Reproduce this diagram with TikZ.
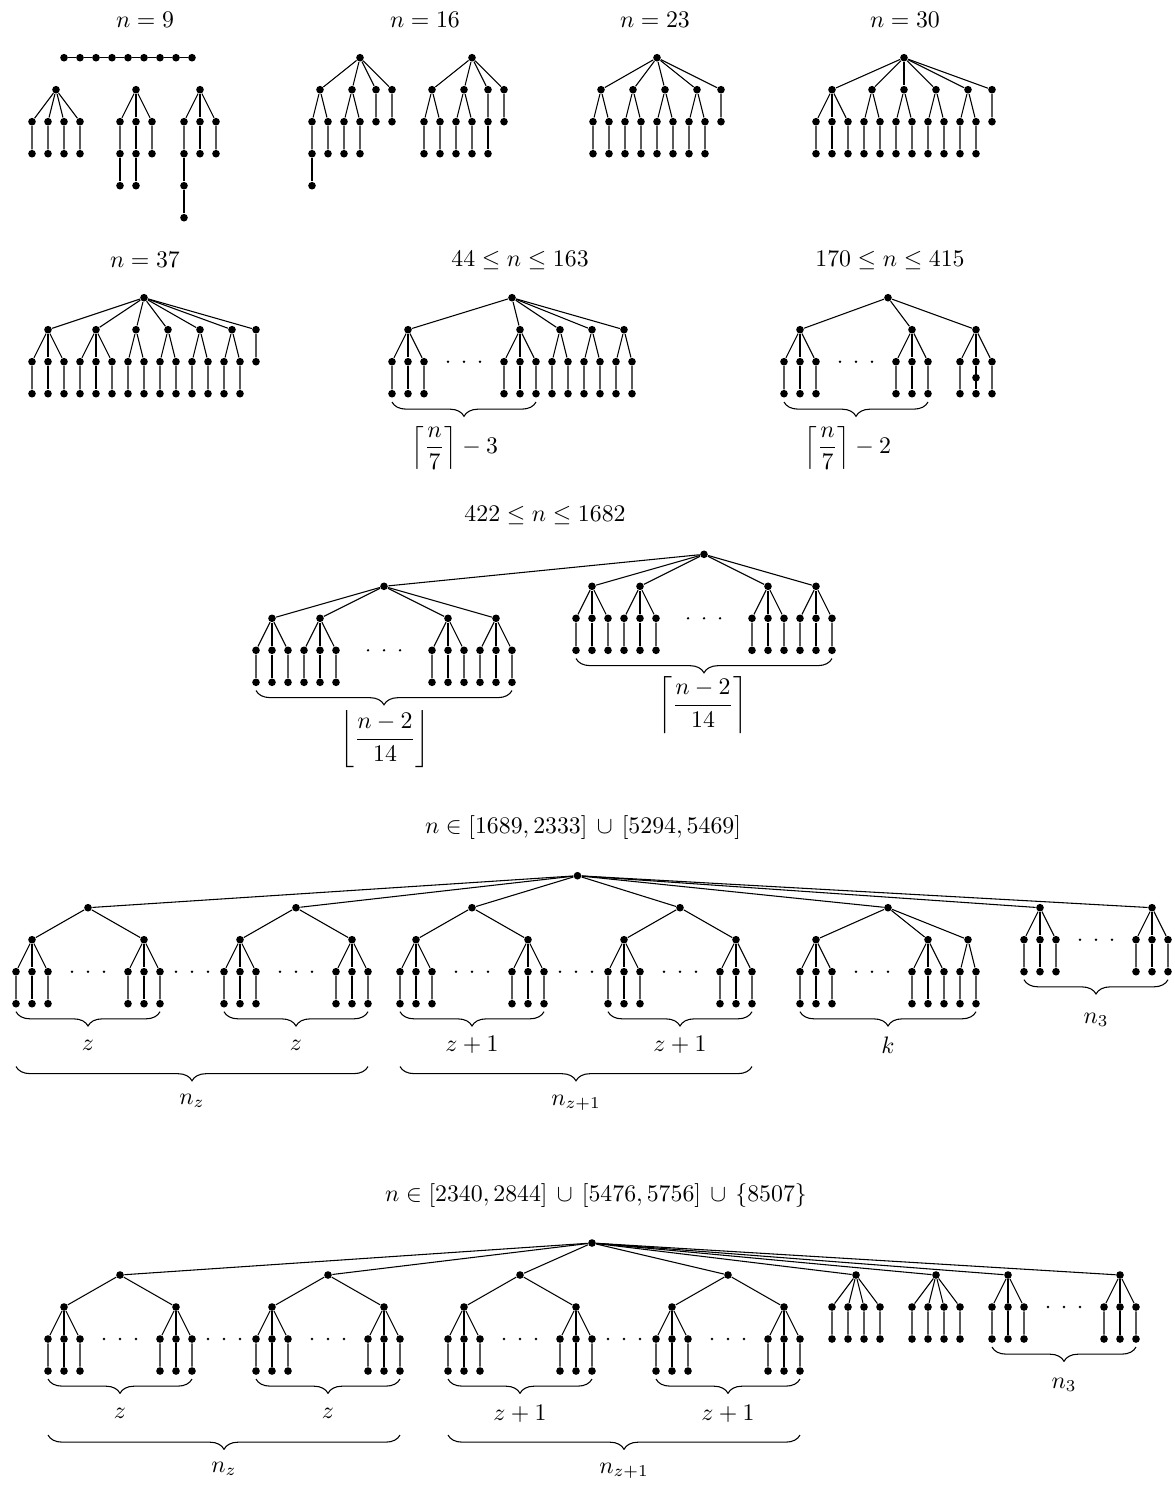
\documentclass[tikz,border=0pt]{standalone}
\usetikzlibrary{decorations.pathreplacing}
\tikzset{
 dot/.style={circle,fill=black,inner sep=0pt,minimum size=3.2pt},
 sdot/.style={circle,fill=black,inner sep=0pt,minimum size=1.1pt},
 bracedown/.style={decorate,decoration={brace,mirror,amplitude=6pt}},
 lbl/.style={inner sep=0pt},
 every path/.style={line width=0.45pt},
}
\newcommand{\legs}[5]{\foreach \xx [count=\k] in {#3} {\node[dot] (#1-c\k) at (\xx,#4) {}; \node[dot] (#1-l\k) at (\xx,#5) {}; \draw (#2) -- (#1-c\k) -- (#1-l\k);}}
\newcommand{\sst}[6]{\node[dot] (#1) at (#2,#3) {}; \legs{#1}{#1}{#4}{#5}{#6}}
\newcommand{\zsub}[6]{%
 \node[dot] (#1) at (#2,#3) {};
 \sst{#1-a}{#2-56}{#4}{#2-72,#2-56,#2-40}{#5}{#6}
 \sst{#1-b}{#2+56}{#4}{#2+40,#2+56,#2+72}{#5}{#6}
 \draw (#1) -- (#1-a); \draw (#1) -- (#1-b);
 \foreach \d [count=\k] in {-16,0,16} \node[sdot] (#1-d\k) at (#2+\d,#5) {};
}
\begin{document}
\begin{tikzpicture}[x=0.42pt,y=-0.42pt]
\useasboundingbox (0,0) rectangle (1174,1490);

% ---------- titles
\node[lbl] (h1) at (145,20) {$n = 9$};
\node[lbl] (h2) at (425,20) {$n = 16$};
\node[lbl] (h3) at (655,20) {$n = 23$};
\node[lbl] (h4) at (905,20) {$n = 30$};
\node[lbl] (h5) at (145,260) {$n = 37$};
\node[lbl] (h6) at (520,260) {$44 \le n \le 163$};
\node[lbl] (h7) at (890,260) {$170 \le n \le 415$};
\node[lbl] (h8) at (545,515) {$422 \le n \le 1682$};
\node[lbl] (h9) at (583,828) {$n \in [1689, 2333] \,\cup\, [5294, 5469]$};
\node[lbl] (h10) at (596,1196) {$n \in [2340, 2844] \,\cup\, [5476, 5756] \,\cup\, \{8507\}$};

% ---------- n = 9
\foreach \i in {0,...,8} \node[dot] (p\i) at ({64+16*\i},57.7) {};
\foreach \i [count=\j] in {0,...,7} \draw (p\i) -- (p\j);
\sst{ta}{56}{89.7}{32,48,64,80}{121.7}{153.7}
\sst{tb}{136}{89.7}{120,136,152}{121.7}{153.7}
\node[dot] (tbx1) at (120,185.7) {}; \draw (tb-l1) -- (tbx1);
\node[dot] (tbx2) at (136,185.7) {}; \draw (tb-l2) -- (tbx2);
\sst{tc}{200}{89.7}{184,200,216}{121.7}{153.7}
\node[dot] (tcx1) at (184,185.7) {}; \node[dot] (tcx2) at (184,217.7) {};
\draw (tc-l1) -- (tcx1) -- (tcx2);

% ---------- n = 16
\node[dot] (ua) at (360,57.7) {};
\sst{uab}{320}{89.7}{312,328}{121.7}{153.7}
\sst{uac}{352}{89.7}{344,360}{121.7}{153.7}
\legs{uad}{ua}{376,392}{89.7}{121.7}
\draw (ua) -- (uab); \draw (ua) -- (uac);
\node[dot] (uax) at (312,185.7) {}; \draw (uab-l1) -- (uax);
\node[dot] (ub) at (472,57.7) {};
\sst{ubb}{432}{89.7}{424,440}{121.7}{153.7}
\sst{ubc}{464}{89.7}{456,472}{121.7}{153.7}
\legs{ubd}{ub}{488,504}{89.7}{121.7}
\draw (ub) -- (ubb); \draw (ub) -- (ubc);
\node[dot] (ubx) at (488,153.7) {}; \draw (ubd-l1) -- (ubx);

% ---------- n = 23
\node[dot] (va) at (657,57.7) {};
\foreach \cx [count=\m] in {601,633,665,697} {\sst{va\m}{\cx}{89.7}{\cx-8,\cx+8}{121.7}{153.7} \draw (va) -- (va\m);}
\legs{vaf}{va}{721}{89.7}{121.7}

% ---------- n = 30
\node[dot] (wa) at (904,57.7) {};
\sst{wa1}{832}{89.7}{816,832,848}{121.7}{153.7} \draw (wa) -- (wa1);
\foreach \cx [count=\m from 2] in {872,904,936,968} {\sst{wa\m}{\cx}{89.7}{\cx-8,\cx+8}{121.7}{153.7} \draw (wa) -- (wa\m);}
\legs{waf}{wa}{992}{89.7}{121.7}

% ---------- n = 37
\node[dot] (na) at (144,297.7) {};
\sst{na1}{48}{329.7}{32,48,64}{361.7}{393.7}
\sst{na2}{96}{329.7}{80,96,112}{361.7}{393.7}
\draw (na) -- (na1); \draw (na) -- (na2);
\foreach \cx [count=\m from 3] in {136,168,200,232} {\sst{na\m}{\cx}{329.7}{\cx-8,\cx+8}{361.7}{393.7} \draw (na) -- (na\m);}
\legs{naf}{na}{256}{329.7}{361.7}

% ---------- 44 <= n <= 163
\node[dot] (ma) at (512,297.7) {};
\sst{ma1}{408}{329.7}{392,408,424}{361.7}{393.7}
\sst{ma2}{520}{329.7}{504,520,536}{361.7}{393.7}
\draw (ma) -- (ma1); \draw (ma) -- (ma2);
\foreach \cx [count=\m from 3] in {560,592,624} {\sst{ma\m}{\cx}{329.7}{\cx-8,\cx+8}{361.7}{393.7} \draw (ma) -- (ma\m);}
\foreach \x [count=\k] in {448,464,480} \node[sdot] (mad\k) at (\x,361.7) {};
\draw[bracedown] (392,402) -- (536,402);
\node[lbl] (mal) at (455,448) {$\displaystyle\left\lceil\frac{n}{7}\right\rceil - 3$};

% ---------- 170 <= n <= 415
\node[dot] (ka) at (888,297.7) {};
\sst{ka1}{800}{329.7}{784,800,816}{361.7}{393.7}
\sst{ka2}{912}{329.7}{896,912,928}{361.7}{393.7}
\sst{ka3}{976}{329.7}{960,976,992}{361.7}{393.7}
\node[dot] (kam) at (976,377.7) {};
\draw (ka) -- (ka1); \draw (ka) -- (ka2); \draw (ka) -- (ka3);
\foreach \x [count=\k] in {840,856,872} \node[sdot] (kad\k) at (\x,361.7) {};
\draw[bracedown] (784,402) -- (928,402);
\node[lbl] (kal) at (848,448) {$\displaystyle\left\lceil\frac{n}{7}\right\rceil - 2$};

% ---------- 422 <= n <= 1682
\node[dot] (R3) at (704,554.3) {};
\node[dot] (xs) at (384,586.3) {}; \draw (R3) -- (xs);
\foreach \cx [count=\m] in {272,320,448,496} {\sst{xs\m}{\cx}{618.3}{\cx-16,\cx,\cx+16}{650.3}{682.3} \draw (xs) -- (xs\m);}
\foreach \cx [count=\m] in {592,640,768,816} {\sst{xr\m}{\cx}{586.3}{\cx-16,\cx,\cx+16}{618.3}{650.3} \draw (R3) -- (xr\m);}
\foreach \x [count=\k] in {368,384,400} \node[sdot] (xsd\k) at (\x,650.3) {};
\foreach \x [count=\k] in {688,704,720} \node[sdot] (xrd\k) at (\x,618.3) {};
\draw[bracedown] (256,690.5) -- (512,690.5);
\draw[bracedown] (576,658.5) -- (832,658.5);
\node[lbl] (xsl) at (385,739) {$\displaystyle\left\lfloor\frac{n-2}{14}\right\rfloor$};
\node[lbl] (xrl) at (703,705) {$\displaystyle\left\lceil\frac{n-2}{14}\right\rceil$};

% ---------- n in [1689,2333] u [5294,5469]
\node[dot] (R4) at (577.5,875.7) {};
\zsub{ya}{88}{907.7}{939.7}{971.7}{1003.7}
\zsub{yb}{296}{907.7}{939.7}{971.7}{1003.7}
\zsub{yc}{472}{907.7}{939.7}{971.7}{1003.7}
\zsub{yd}{680}{907.7}{939.7}{971.7}{1003.7}
\node[dot] (ye) at (888,907.7) {};
\sst{ye1}{816}{939.7}{800,816,832}{971.7}{1003.7}
\sst{ye2}{928}{939.7}{912,928,944}{971.7}{1003.7}
\sst{ye3}{968}{939.7}{960,976}{971.7}{1003.7}
\draw (ye) -- (ye1); \draw (ye) -- (ye2); \draw (ye) -- (ye3);
\foreach \x [count=\k] in {856,872,888} \node[sdot] (yed\k) at (\x,971.7) {};
\sst{yf}{1040}{907.7}{1024,1040,1056}{939.7}{971.7}
\sst{yg}{1152}{907.7}{1136,1152,1168}{939.7}{971.7}
\foreach \x [count=\k] in {1080,1096,1112} \node[sdot] (yfd\k) at (\x,939.7) {};
\foreach \x [count=\k] in {176,192,208} \node[sdot] (yab\k) at (\x,971.7) {};
\foreach \x [count=\k] in {560,576,592} \node[sdot] (ycd\k) at (\x,971.7) {};
\foreach \t in {ya,yb,yc,yd,ye,yf,yg} \draw (R4) -- (\t);
\draw[bracedown] (16,1011.7) -- (160,1011.7);
\draw[bracedown] (224,1011.7) -- (368,1011.7);
\draw[bracedown] (400,1011.7) -- (544,1011.7);
\draw[bracedown] (608,1011.7) -- (752,1011.7);
\draw[bracedown] (800,1011.7) -- (976,1011.7);
\draw[bracedown] (1024,979.7) -- (1168,979.7);
\draw[bracedown] (16,1066.5) -- (368,1066.5);
\draw[bracedown] (400,1066.5) -- (752,1066.5);
\node[lbl] (yl1) at (88,1045) {$z$};
\node[lbl] (yl2) at (296,1045) {$z$};
\node[lbl] (yl3) at (472,1045) {$z+1$};
\node[lbl] (yl4) at (680,1045) {$z+1$};
\node[lbl] (yl5) at (888,1045) {$k$};
\node[lbl] (yl6) at (1096,1020) {$n_3$};
\node[lbl] (yl7) at (192,1101) {$n_z$};
\node[lbl] (yl8) at (576,1103) {$n_{z+1}$};

% ---------- n in [2340,2844] u [5476,5756] u {8507}
\node[dot] (R5) at (592,1243) {};
\zsub{za}{120}{1275}{1307}{1339}{1371}
\zsub{zb}{328}{1275}{1307}{1339}{1371}
\zsub{zc}{520}{1275}{1307}{1339}{1371}
\zsub{zd}{728}{1275}{1307}{1339}{1371}
\sst{zg}{856}{1275}{832,848,864,880}{1307}{1339}
\sst{zh}{936}{1275}{912,928,944,960}{1307}{1339}
\sst{zf}{1008}{1275}{992,1008,1024}{1307}{1339}
\sst{zk}{1120}{1275}{1104,1120,1136}{1307}{1339}
\foreach \x [count=\k] in {1048,1064,1080} \node[sdot] (zfd\k) at (\x,1307) {};
\foreach \x [count=\k] in {208,224,240} \node[sdot] (zab\k) at (\x,1339) {};
\foreach \x [count=\k] in {608,624,640} \node[sdot] (zcd\k) at (\x,1339) {};
\foreach \t in {za,zb,zc,zd,zg,zh,zf,zk} \draw (R5) -- (\t);
\draw[bracedown] (48,1379) -- (192,1379);
\draw[bracedown] (256,1379) -- (400,1379);
\draw[bracedown] (448,1379) -- (592,1379);
\draw[bracedown] (656,1379) -- (800,1379);
\draw[bracedown] (992,1347) -- (1136,1347);
\draw[bracedown] (48,1435) -- (400,1435);
\draw[bracedown] (448,1435) -- (800,1435);
\node[lbl] (zl1) at (120,1413) {$z$};
\node[lbl] (zl2) at (328,1413) {$z$};
\node[lbl] (zl3) at (520,1414) {$z+1$};
\node[lbl] (zl4) at (728,1414) {$z+1$};
\node[lbl] (zl5) at (1064,1385) {$n_3$};
\node[lbl] (zl6) at (224,1469) {$n_z$};
\node[lbl] (zl7) at (624,1471) {$n_{z+1}$};
\end{tikzpicture}
\end{document}
